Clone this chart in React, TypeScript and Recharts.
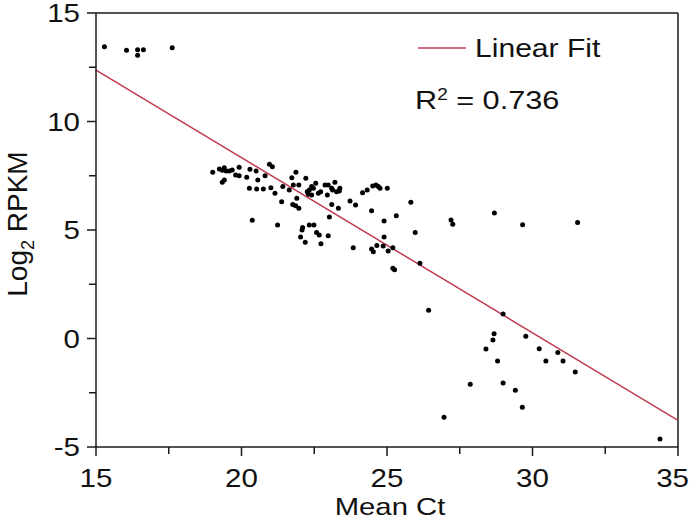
import React from 'react';
import { ScatterChart, Scatter, XAxis, YAxis, ReferenceLine } from 'recharts';

const meanCt = [
  15.29, 16.05, 16.43, 16.43, 16.63, 17.62,
  19.01, 19.24, 19.34, 19.41, 19.47, 19.58, 19.68, 19.80, 19.92, 19.92,
  19.41, 19.34, 20.18, 20.29, 20.50, 20.56, 20.81, 20.96, 21.06, 20.27,
  20.52, 20.75, 21.01, 21.15, 21.42, 21.38, 21.64, 21.73, 21.87, 21.78,
  21.97, 21.90, 21.76, 21.86, 21.97, 22.21, 22.26, 22.33, 22.41, 22.47,
  22.55, 22.41, 22.30, 22.64, 22.72, 22.87, 22.98, 22.95, 23.10, 23.13,
  23.21, 23.27, 23.36, 23.38, 23.10, 23.33, 23.73, 23.92, 24.16, 24.32,
  24.51, 24.62, 24.70, 24.76, 25.01, 24.47, 20.37, 21.24, 22.10, 22.08,
  22.33, 22.49, 22.58, 22.67, 22.03, 22.19, 22.73, 22.98, 23.02, 23.84,
  24.90, 24.90, 24.47, 24.53, 24.65, 24.87, 25.04, 25.20, 25.82, 25.32,
  25.97, 27.20, 27.26, 28.69, 29.66, 31.55, 26.13, 25.20, 25.26, 26.43,
  28.99, 28.68, 28.64, 28.40, 29.77, 30.23, 30.87, 28.80, 30.46, 31.05,
  31.47, 27.86, 28.99, 29.41, 29.65, 26.96, 34.38,
];

const log2Rpkm = [
  13.45, 13.28, 13.31, 13.05, 13.31, 13.40,
  7.66, 7.81, 7.75, 7.87, 7.72, 7.72, 7.76, 7.53, 7.50, 7.89,
  7.30, 7.20, 7.43, 7.80, 7.72, 7.30, 7.50, 8.03, 7.92, 6.92,
  6.89, 6.89, 6.95, 6.69, 7.00, 6.30, 6.84, 7.41, 7.66, 7.07,
  7.07, 6.46, 6.18, 6.12, 6.00, 7.38, 6.76, 6.84, 7.00, 6.92,
  7.15, 6.61, 6.65, 6.69, 6.76, 7.07, 7.07, 6.61, 6.92, 6.84,
  7.20, 6.76, 6.80, 6.92, 6.18, 6.00, 6.34, 6.15, 6.72, 6.84,
  7.03, 7.07, 7.00, 6.92, 6.92, 5.89, 5.45, 5.23, 5.11, 5.00,
  5.23, 5.23, 4.89, 4.77, 4.68, 4.43, 4.37, 4.74, 5.60, 4.18,
  5.41, 4.68, 4.12, 4.00, 4.28, 4.26, 4.03, 4.18, 6.28, 5.66,
  4.88, 5.46, 5.26, 5.78, 5.24, 5.35, 3.47, 3.24, 3.17, 1.30,
  1.13, 0.22, -0.07, -0.48, 0.10, -0.47, -0.64, -1.04, -1.04, -1.04,
  -1.54, -2.11, -2.05, -2.39, -3.17, -3.63, -4.63,
];

const fitX = [15, 35];
const fitY = [12.37, -3.77];

const xTicks = [15, 17.5, 20, 22.5, 25, 27.5, 30, 32.5, 35];
const yTicks = [-5, -2.5, 0, 2.5, 5, 7.5, 10, 12.5, 15];

const points = meanCt.map((x, i) => ({ x, y: log2Rpkm[i] }));

const FONT = '"Liberation Sans", Arial, Helvetica, sans-serif';
const AXIS = '#1a1a1a';
const FIT = '#c23a50';
const SX = 1.18;

const XTick = (props: any) => {
  const { x, y, payload } = props;
  const v = payload.value;
  const major = v % 5 === 0;
  const last = v === xTicks[xTicks.length - 1];
  return (
    <g>
      <line x1={x} y1={y} x2={x} y2={y + (major ? 9 : 7)} stroke={AXIS} strokeWidth={1.5} />
      {major && (
        <text
          transform={`translate(${last ? x + 11 : x},${y + 40}) scale(${SX},1)`}
          textAnchor={last ? 'end' : 'middle'}
          fontSize={25}
          fontFamily={FONT}
          fill="#111"
        >
          {v}
        </text>
      )}
    </g>
  );
};

const YTick = (props: any) => {
  const { x, y, payload } = props;
  const v = payload.value;
  const major = v % 5 === 0;
  return (
    <g>
      <line x1={x - (major ? 9 : 7)} y1={y} x2={x} y2={y} stroke={AXIS} strokeWidth={1.5} />
      {major && (
        <text
          transform={`translate(${x - 16},${y}) scale(${SX},1)`}
          dy="0.36em"
          textAnchor="end"
          fontSize={25}
          fontFamily={FONT}
          fill="#111"
        >
          {v}
        </text>
      )}
    </g>
  );
};

const Dot = (props: any) => {
  const { cx, cy } = props;
  return <circle cx={cx} cy={cy} r={2.5} fill="#000" />;
};

const XTitle = (props: any) => {
  const { viewBox } = props;
  const cx = viewBox.x + viewBox.width / 2 + 3;
  return (
    <text
      transform={`translate(${cx},${viewBox.y + 67.5}) scale(1.22,1)`}
      textAnchor="middle"
      fontSize={24}
      fontFamily={FONT}
      fill="#111"
    >
      Mean Ct
    </text>
  );
};

const YTitle = (props: any) => {
  const { viewBox } = props;
  const cx = 27;
  const cy = viewBox.y + viewBox.height / 2 - 6;
  return (
    <text
      x={cx}
      y={cy}
      transform={`rotate(-90, ${cx}, ${cy})`}
      textAnchor="middle"
      fontSize={28}
      fontFamily={FONT}
      fill="#111"
    >
      <tspan>Log</tspan>
      <tspan fontSize={18} dy={7}>2</tspan>
      <tspan dy={-7}> RPKM</tspan>
    </text>
  );
};

export default function App() {
  return (
    <div style={{ position: 'absolute', left: 0, top: 0, width: 690, height: 520, background: '#fff' }}>
      <ScatterChart width={690} height={520} margin={{ top: 13, right: 12, bottom: 0, left: 0 }}>
        <XAxis
          type="number"
          dataKey="x"
          domain={[15, 35]}
          ticks={xTicks}
          interval={0}
          height={73}
          tickSize={0}
          tickMargin={0}
          tickLine={false}
          tick={<XTick />}
          axisLine={{ stroke: AXIS, strokeWidth: 1.5 }}
          allowDataOverflow
          label={<XTitle />}
        />
        <YAxis
          type="number"
          dataKey="y"
          domain={[-5, 15]}
          ticks={yTicks}
          interval={0}
          width={96}
          tickSize={0}
          tickMargin={0}
          tickLine={false}
          tick={<YTick />}
          axisLine={{ stroke: AXIS, strokeWidth: 1.5 }}
          allowDataOverflow
          label={<YTitle />}
        />
        <ReferenceLine y={15} stroke={AXIS} strokeWidth={1.5} />
        <ReferenceLine x={35} stroke={AXIS} strokeWidth={1.5} />
        <ReferenceLine
          segment={[
            { x: fitX[0], y: fitY[0] },
            { x: fitX[1], y: fitY[1] },
          ]}
          stroke={FIT}
          strokeWidth={1.5}
        />
        <Scatter data={points} shape={<Dot />} isAnimationActive={false} />
      </ScatterChart>
      <svg
        width={690}
        height={520}
        style={{ position: 'absolute', left: 0, top: 0, pointerEvents: 'none' }}
      >
        <line x1={418} y1={48} x2={466} y2={48} stroke={FIT} strokeWidth={1.5} />
        <text
          transform={`translate(475,48) scale(${SX},1)`}
          dy="0.36em"
          fontSize={25.5}
          fontFamily={FONT}
          fill="#111"
        >
          Linear Fit
        </text>
        <text
          transform={`translate(415,109) scale(${SX},1)`}
          fontSize={26}
          fontFamily={FONT}
          fill="#111"
        >
          <tspan>R</tspan>
          <tspan fontSize={16} dy={-9}>2</tspan>
          <tspan dy={9}> = 0.736</tspan>
        </text>
      </svg>
    </div>
  );
}
